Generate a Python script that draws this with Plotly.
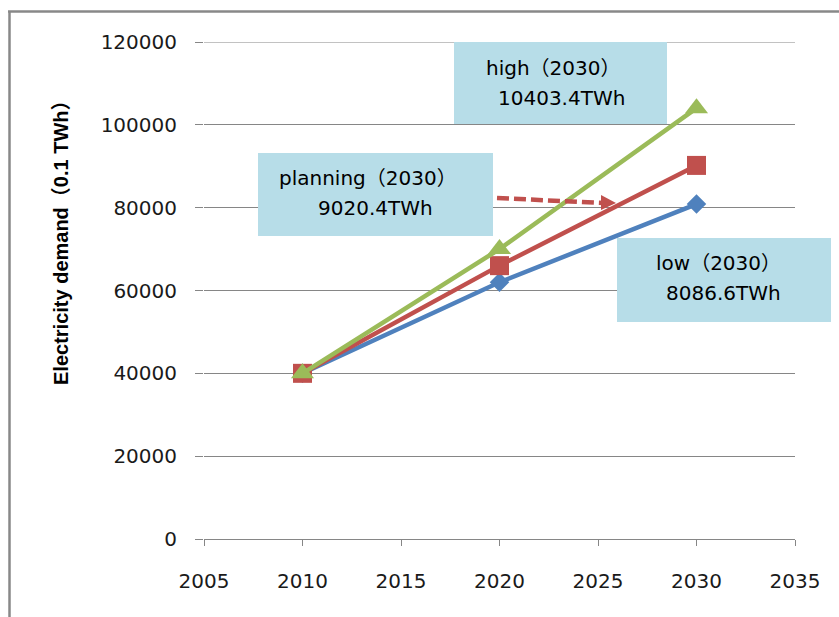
import plotly.graph_objects as go

# Electricity demand scenarios, in units of 0.1 TWh
years = [2010, 2020, 2030]
low = [40000, 62000, 80866]
planning = [40000, 66000, 90204]
high = [40000, 70000, 104034]

x_ticks = [2005, 2010, 2015, 2020, 2025, 2030, 2035]
y_ticks = [0, 20000, 40000, 60000, 80000, 100000, 120000]

# callout texts (scenario, value for 2030)
callouts = {
    "high": ("high（2030）", "10403.4TWh"),
    "planning": ("planning（2030）", "9020.4TWh"),
    "low": ("low（2030）", "8086.6TWh"),
}

BLUE = "#4F81BD"
RED = "#C0504D"
GREEN = "#9BBB59"
BOX = "#B7DDE8"
GRID = "#868686"
FONT = "DejaVu Sans, Noto Sans CJK SC, sans-serif"

# plot-area geometry in pixels (used to place decorations in paper units)
W, H = 839, 617
L, R, T, B = 204, 795, 42, 539


def px(x):
    return (x - L) / (R - L)


def py(y):
    return (B - y) / (B - T)


fig = go.Figure()
fig.add_trace(go.Scatter(x=years, y=low, mode="lines+markers", name="low",
                         line=dict(color=BLUE, width=4.5),
                         marker=dict(symbol="diamond", size=15, color=BLUE)))
fig.add_trace(go.Scatter(x=years, y=planning, mode="lines+markers", name="planning",
                         line=dict(color=RED, width=4.5),
                         marker=dict(symbol="square", size=19, color=RED)))
fig.add_trace(go.Scatter(x=years, y=high, mode="lines+markers", name="high",
                         line=dict(color=GREEN, width=4.5),
                         marker=dict(symbol="triangle-up", size=20, color=GREEN)))

shapes = []
annotations = []

# top gridline at the upper end of the value range
shapes.append(dict(type="line", xref="paper", yref="y", x0=0, x1=1,
                   y0=y_ticks[-1], y1=y_ticks[-1], line=dict(color=GRID, width=1),
                   layer="below"))

# callout boxes: (key, left, top, right, bottom, line1 centre x, line1 y, line2 centre x, line2 y)
boxes = [
    ("high", 454, 42, 667, 124, 553, 68, 561, 98),
    ("planning", 258, 153, 493, 236, 368, 178, 375, 208),
    ("low", 617, 238, 831, 322, 718, 263, 723, 293),
]
for key, x0, y0, x1, y1, cx1, cy1, cx2, cy2 in boxes:
    shapes.append(dict(type="rect", xref="paper", yref="paper",
                       x0=px(x0), x1=px(x1), y0=py(y1), y1=py(y0),
                       fillcolor=BOX, line=dict(width=0), layer="above"))
    t1, t2 = callouts[key]
    annotations.append(dict(xref="paper", yref="paper", x=px(cx1), y=py(cy1),
                            text=t1, showarrow=False, xanchor="center", yanchor="middle",
                            font=dict(family=FONT, size=20, color="#000000")))
    annotations.append(dict(xref="paper", yref="paper", x=px(cx2), y=py(cy2),
                            text=t2, showarrow=False, xanchor="center", yanchor="middle",
                            font=dict(family=FONT, size=20, color="#000000")))

# dashed pointer from the planning callout towards its line
shapes.append(dict(type="line", xref="paper", yref="paper",
                   x0=px(497), y0=py(198), x1=px(604), y1=py(203),
                   line=dict(color=RED, width=4.5, dash="12px,5px"), layer="above"))
shapes.append(dict(type="path", xref="paper", yref="paper",
                   path=f"M{px(601)},{py(195)} L{px(616)},{py(203)} L{px(601)},{py(210)} Z",
                   fillcolor=RED, line=dict(width=0), layer="above"))

# frame lines along the top and left edges of the figure
shapes.append(dict(type="line", xref="paper", yref="paper",
                   x0=px(8), x1=px(839), y0=py(11.5), y1=py(11.5),
                   line=dict(color="#888888", width=2.5)))
shapes.append(dict(type="line", xref="paper", yref="paper",
                   x0=px(9.5), x1=px(9.5), y0=py(11), y1=py(617),
                   line=dict(color="#888888", width=2.5)))

# y-axis title
annotations.append(dict(xref="paper", yref="paper", x=px(61), y=py(238),
                        text="<b>Electricity demand（0.1 TWh）</b>", textangle=-90,
                        showarrow=False, xanchor="center", yanchor="middle",
                        font=dict(family="Liberation Sans, Noto Sans CJK SC, sans-serif",
                                  size=20, color="#000000")))

fig.update_layout(
    width=W, height=H,
    margin=dict(l=L, r=W - R, t=T, b=H - B),
    paper_bgcolor="white", plot_bgcolor="white",
    showlegend=False,
    shapes=shapes, annotations=annotations,
    xaxis=dict(range=[2005, 2035], tickvals=x_ticks, ticktext=[str(v) for v in x_ticks],
               showgrid=False, zeroline=False, showline=True, linecolor=GRID, linewidth=1,
               ticks="outside", ticklen=6, tickcolor=GRID, tickwidth=1,
               ticklabelstandoff=18,
               tickfont=dict(family=FONT, size=20, color="#1a1a1a")),
    yaxis=dict(range=[0, 120000], tickvals=y_ticks, ticktext=[str(v) for v in y_ticks],
               showgrid=True, gridcolor=GRID, gridwidth=1, zeroline=False, showline=False,
               ticks="outside", ticklen=8, tickcolor=GRID, tickwidth=1,
               ticklabelstandoff=14,
               tickfont=dict(family=FONT, size=20, color="#1a1a1a")),
)

fig.write_html("out.html")
